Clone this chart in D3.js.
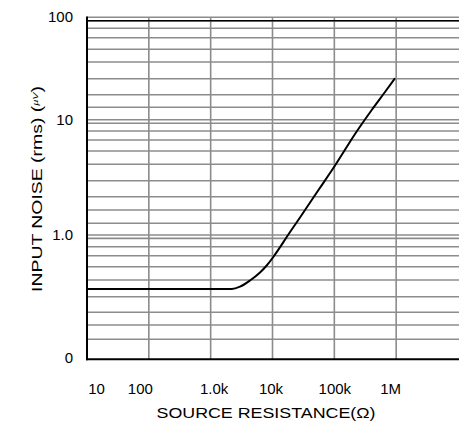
<!DOCTYPE html>
<html><head><meta charset="utf-8">
<script src="https://cdn.jsdelivr.net/npm/d3@7"></script>
<style>
html,body{margin:0;padding:0;background:#fff;}
text{font-family:"Liberation Sans",Arial,sans-serif;fill:#000;}
</style>
</head><body><svg id="c" width="459" height="428"></svg>
<script>
// ---- data ----
const resistance = [10, 100, 1000, 2189, 2982, 4327, 6279, 8059, 10302, 13222, 16970, 27850, 55050, 101400, 229900, 402200, 659800, 957400];
const noise      = [0.3745, 0.3745, 0.3745, 0.3745, 0.391, 0.4392, 0.5105, 0.582, 0.683, 0.820, 0.994, 1.468, 2.528, 4.109, 8.19, 12.95, 19.4, 26.4];
const xDecades   = [10, 100, 1e3, 1e4, 1e5, 1e6];
const xTickLabels = ["10", "100", "1.0k", "10k", "100k", "1M"];
const yMajor     = [0.1, 1, 10, 100];
const yTickLabels = ["0", "1.0", "10", "100"];
const yMinor     = [0.1456, 0.1905, 0.2417, 0.324, 0.4434, 0.569, 0.700, 0.829,
                    1.307, 1.705, 2.22, 3.06, 4.25, 5.55, 6.91, 8.27,
                    13.75, 18.26, 26.16, 38.06, 50.6, 65.7, 81.2];

// ---- layout ----
const W = 459, H = 428;
const mLeft = 87, mRight = 459, mBottom = 359.3, mTop = 19;
const xLabelShift = [9, -9, 3, -2, 0, -6];

const svg = d3.select("#c");
svg.append("rect").attr("width", W).attr("height", H).attr("fill", "#fff");

const x = d3.scaleLog().domain([10, 1e7]).range([mLeft, 458]);
const y = d3.scaleLog().domain([0.1, 1, 10, 100]).range([mBottom, 236.7, 121.5, mTop]);

const grid = svg.append("g").attr("stroke", "#8c8c8c").attr("stroke-width", 1.6).attr("fill", "none");
grid.selectAll("line.hm").data(yMinor).join("line").attr("class", "hm")
  .attr("x1", mLeft).attr("x2", mRight).attr("y1", d => y(d)).attr("y2", d => y(d));
[1, 10, 100].forEach(v => {
  [-1.7, 1.7].forEach(o => {
    grid.append("line").attr("x1", mLeft).attr("x2", mRight)
      .attr("y1", y(v) + o).attr("y2", y(v) + o);
  });
});
grid.selectAll("line.v").data(xDecades.slice(1)).join("line").attr("class", "v")
  .attr("x1", d => x(d)).attr("x2", d => x(d)).attr("y1", y(100) - 1.7).attr("y2", mBottom);

const frame = svg.append("g").attr("stroke", "#000").attr("fill", "none");
frame.append("line").attr("x1", mLeft).attr("x2", mRight).attr("y1", y(100) + 1.7).attr("y2", y(100) + 1.7).attr("stroke-width", 1.4);
frame.append("line").attr("x1", mLeft).attr("x2", mLeft).attr("y1", y(100) - 2.5).attr("y2", mBottom + 1).attr("stroke-width", 2);
frame.append("line").attr("x1", mLeft - 1).attr("x2", mRight).attr("y1", mBottom).attr("y2", mBottom).attr("stroke-width", 2);

const line = d3.line().x((d, i) => x(resistance[i])).y((d, i) => y(noise[i])).curve(d3.curveMonotoneX);
svg.append("path").datum(noise).attr("d", line).attr("fill", "none").attr("stroke", "#000").attr("stroke-width", 2);

const xAxis = d3.axisBottom(x).tickValues(xDecades).tickFormat((d, i) => xTickLabels[i]).tickSize(0).tickPadding(24);
const gx = svg.append("g").attr("transform", `translate(0,${mBottom})`).call(xAxis);
gx.select(".domain").remove();
gx.selectAll("text").attr("font-size", 15).attr("font-family", '"Liberation Sans",Arial,sans-serif').attr("fill", "#000")
  .attr("dx", (d, i) => xLabelShift[i]);

const yAxis = d3.axisLeft(y).tickValues(yMajor).tickFormat((d, i) => yTickLabels[i]).tickSize(0).tickPadding(14);
const gy = svg.append("g").attr("transform", `translate(${mLeft},0)`).call(yAxis);
gy.select(".domain").remove();
gy.selectAll("text").attr("font-size", 15).attr("font-family", '"Liberation Sans",Arial,sans-serif').attr("fill", "#000")
  .attr("dy", "0.18em");

svg.append("text").attr("x", 266).attr("y", 418).attr("text-anchor", "middle").attr("font-size", 14.5)
  .attr("textLength", 219).attr("lengthAdjust", "spacingAndGlyphs")
  .text("SOURCE RESISTANCE(Ω)");

const yt = svg.append("text").attr("transform", "translate(41.5,189) rotate(-90)")
  .attr("text-anchor", "middle").attr("font-size", 14.5)
  .attr("textLength", 206).attr("lengthAdjust", "spacingAndGlyphs");
yt.append("tspan").text("INPUT NOISE (rms) (");
yt.append("tspan").attr("font-size", 8).attr("font-style", "italic").attr("dy", -4).text("µV");
yt.append("tspan").attr("dy", 4).text(")");
</script>
</body></html>
